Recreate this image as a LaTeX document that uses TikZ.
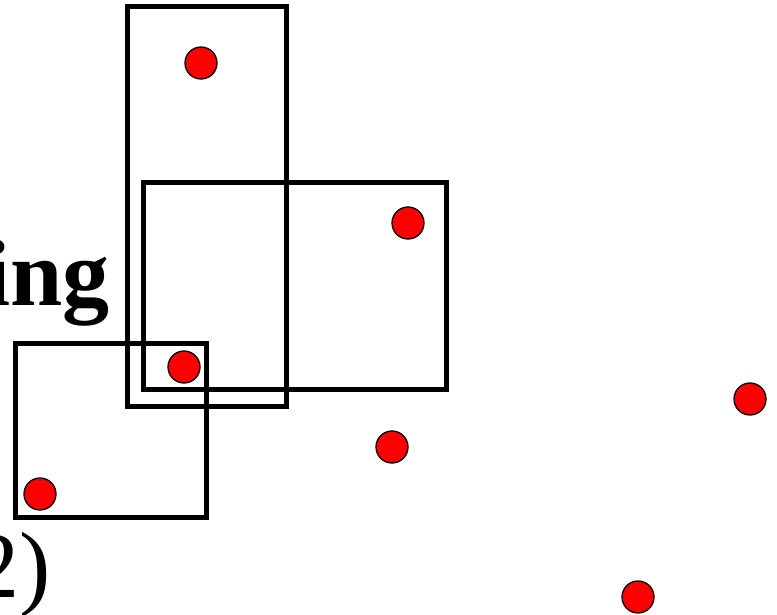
\documentclass[tikz,border=0pt]{standalone}
\usepackage{fontspec}
\setmainfont{Liberation Serif}
\begin{document}
\begin{tikzpicture}[x=1pt, y=-1pt,
      box/.style={draw, line width=5pt},
      pt/.style={circle, draw, line width=1.3pt, fill=red, inner sep=0pt, minimum size=32pt},
      big/.style={font=\fontsize{94}{110}\selectfont, inner sep=0pt}]
    \clip (0,0) rectangle (777,614);
    % boxes
    \draw[box] (127,6) rectangle (286,406);
    \draw[box] (143,182) rectangle (446,389);
    \draw[box] (15,343) rectangle (206,517);
    % points
    \node[pt] (p1) at (201,63) {};
    \node[pt] (p2) at (408,223) {};
    \node[pt] (p3) at (184,367) {};
    \node[pt] (p4) at (392,447) {};
    \node[pt] (p5) at (750,399) {};
    \node[pt] (p6) at (40,494) {};
    \node[pt] (p7) at (638,597) {};
    % labels
    \node[big, anchor=base east] (title) at (110,305) {\bfseries ing};
    \node[big, anchor=base east] (num) at (51,597) {2)};
\end{tikzpicture}
\end{document}
